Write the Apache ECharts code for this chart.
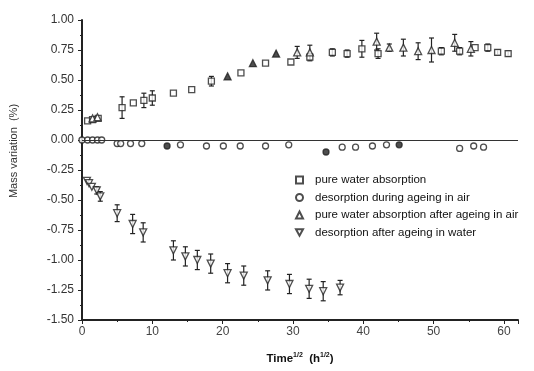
<!DOCTYPE html>
<html>
<head>
<meta charset="utf-8">
<script src="https://cdn.jsdelivr.net/npm/echarts@6/dist/echarts.min.js"></script>
<style>
  html, body { margin: 0; padding: 0; background: #fff; }
  #chart { width: 534px; height: 371px; }
</style>
</head>
<body>
<div id="chart"></div>
<script>
// [time^1/2, mass variation %, error]
const pureWater = [
  [0.8, 0.16, 0], [1.5, 0.17, 0], [2.3, 0.18, 0], [5.7, 0.27, 0.09], [7.3, 0.31, 0],
  [8.8, 0.33, 0.06], [10, 0.35, 0.06], [13, 0.39, 0], [15.6, 0.42, 0], [18.4, 0.49, 0.04],
  [22.6, 0.56, 0], [26.1, 0.64, 0], [29.7, 0.65, 0], [32.4, 0.69, 0.03], [35.6, 0.73, 0.03],
  [37.7, 0.72, 0.03], [39.8, 0.76, 0.07], [42.1, 0.72, 0.04], [51.1, 0.74, 0.03], [53.7, 0.74, 0.03],
  [55.9, 0.77, 0], [57.7, 0.77, 0.03], [59.1, 0.73, 0.02], [60.6, 0.72, 0.02]
];
const desorbAir = [
  [0, 0, 0], [0.8, 0, 0], [1.5, 0, 0], [2.2, 0, 0], [2.8, 0, 0], [5, -0.03, 0], [5.5, -0.03, 0],
  [6.9, -0.03, 0], [8.5, -0.03, 0], [12.1, -0.05, 0], [14, -0.04, 0], [17.7, -0.05, 0],
  [20.1, -0.05, 0], [22.5, -0.05, 0], [26.1, -0.05, 0], [29.4, -0.04, 0], [34.7, -0.1, 0],
  [37, -0.06, 0], [38.9, -0.06, 0], [41.3, -0.05, 0], [43.3, -0.04, 0], [45.1, -0.04, 0],
  [53.7, -0.07, 0], [55.7, -0.05, 0], [57.1, -0.06, 0]
];
const waterAfterAir = [
  [1.5, 0.18, 0], [2.2, 0.19, 0], [20.7, 0.53, 0], [24.3, 0.64, 0], [27.6, 0.72, 0],
  [30.6, 0.73, 0.05], [32.4, 0.73, 0.06], [41.9, 0.82, 0.07], [43.7, 0.77, 0.03],
  [45.7, 0.77, 0.07], [47.8, 0.74, 0.07], [49.7, 0.75, 0.1], [53, 0.81, 0.07], [55.3, 0.76, 0.06]
];
const desorbWater = [
  [0.7, -0.34, 0], [1.0, -0.36, 0], [1.4, -0.39, 0], [2.1, -0.42, 0.03], [2.6, -0.47, 0.04],
  [5, -0.61, 0.07], [7.2, -0.7, 0.08], [8.7, -0.77, 0.08], [13, -0.92, 0.08], [14.7, -0.97, 0.08],
  [16.4, -1.0, 0.08], [18.3, -1.03, 0.08], [20.7, -1.11, 0.08], [23, -1.13, 0.08],
  [26.4, -1.17, 0.08], [29.5, -1.2, 0.08], [32.3, -1.24, 0.08], [34.3, -1.26, 0.08], [36.7, -1.23, 0.06]
];
const seriesNames = [
  'pure water absorption',
  'desorption during ageing in air',
  'pure water absorption after ageing in air',
  'desorption after ageing in water'
];
const xTicks = [0, 10, 20, 30, 40, 50, 60];
const yTicks = [-1.5, -1.25, -1.0, -0.75, -0.5, -0.25, 0, 0.25, 0.5, 0.75, 1.0];

const ink = '#222';
const font = 'Liberation Sans, Arial, sans-serif';
const chart = echarts.init(document.getElementById('chart'));

// vertical error bars with small caps
function errorBars(data) {
  return {
    type: 'custom',
    silent: true,
    z: 1,
    data: data.filter(d => d[2] > 0),
    renderItem: function (params, api) {
      const x = api.value(0), y = api.value(1), e = api.value(2);
      const top = api.coord([x, y + e]);
      const bot = api.coord([x, y - e]);
      const w = 2.5;
      const style = { stroke: ink, lineWidth: 1.2 };
      return {
        type: 'group',
        children: [
          { type: 'line', shape: { x1: top[0], y1: top[1], x2: bot[0], y2: bot[1] }, style: style },
          { type: 'line', shape: { x1: top[0] - w, y1: top[1], x2: top[0] + w, y2: top[1] }, style: style },
          { type: 'line', shape: { x1: bot[0] - w, y1: bot[1], x2: bot[0] + w, y2: bot[1] }, style: style }
        ]
      };
    }
  };
}

function scatter(name, data, symbol, size, rotate, filledIdx) {
  return {
    name: name,
    type: 'scatter',
    symbol: symbol,
    symbolSize: size,
    symbolRotate: rotate,
    z: 3,
    itemStyle: { color: '#fff', borderColor: ink, borderWidth: 1.3 },
    data: data.map((d, i) => ({
      value: [d[0], d[1]],
      itemStyle: filledIdx && filledIdx.indexOf(i) >= 0 ? { color: ink } : undefined
    }))
  };
}

const option = {
  animation: false,
  backgroundColor: '#fff',
  textStyle: { fontFamily: font },
  grid: { left: 82, right: 16, top: 20, bottom: 51 },
  graphic: [{
    type: 'text',
    x: 14,
    y: 151,
    rotation: Math.PI / 2,
    style: {
      text: 'Mass variation  (%)',
      font: '11px ' + font,
      fill: '#333',
      align: 'center',
      verticalAlign: 'middle'
    }
  }],
  legend: {
    orient: 'vertical',
    left: 290,
    top: 169,
    itemGap: 5.5,
    itemWidth: 7,
    itemHeight: 7,
    textStyle: { fontSize: 11.5, color: '#111', fontFamily: font, padding: [0, 0, 0, 7] },
    data: [
      { name: seriesNames[0], icon: 'rect' },
      { name: seriesNames[1], icon: 'circle' },
      { name: seriesNames[2], icon: 'triangle' },
      { name: seriesNames[3], icon: 'path://M0,0L10,0L5,9Z' }
    ]
  },
  xAxis: {
    type: 'value',
    min: 0,
    max: 62,
    interval: 10,
    name: '{b|Time}{s|1/2}{b|  (h}{s|1/2}{b|)}',
    nameLocation: 'middle',
    nameGap: 32,
    nameTextStyle: {
      rich: {
        b: { fontSize: 11.5, fontWeight: 'bold', color: '#111' },
        s: { fontSize: 7, fontWeight: 'bold', color: '#111', verticalAlign: 'top', padding: [0, 0, 6, 0] }
      }
    },
    axisLine: { onZero: false, lineStyle: { color: ink, width: 2 } },
    axisTick: { length: 4, lineStyle: { color: ink } },
    minorTick: { show: true, splitNumber: 2, length: 2, lineStyle: { color: ink } },
    axisLabel: { fontSize: 12, color: '#444', margin: 6, customValues: xTicks },
    splitLine: { show: false }
  },
  yAxis: {
    type: 'value',
    min: -1.5,
    max: 1.0,
    interval: 0.25,
    axisLine: { onZero: false, lineStyle: { color: ink, width: 2 } },
    axisTick: { length: 4, lineStyle: { color: ink } },
    minorTick: { show: true, splitNumber: 2, length: 2, lineStyle: { color: ink } },
    axisLabel: {
      fontSize: 12, color: '#333', margin: 8,
      customValues: yTicks,
      formatter: v => v.toFixed(2)
    },
    splitLine: { show: false }
  },
  series: [
    errorBars(pureWater),
    errorBars(waterAfterAir),
    errorBars(desorbWater),
    Object.assign(scatter(seriesNames[0], pureWater, 'rect', 6, 0), {
      markLine: {
        silent: true,
        symbol: 'none',
        label: { show: false },
        lineStyle: { color: '#333', width: 1.2, type: 'solid' },
        data: [{ yAxis: 0 }]
      }
    }),
    scatter(seriesNames[1], desorbAir, 'circle', 6, 0, [9, 16, 21]),
    scatter(seriesNames[2], waterAfterAir, 'triangle', 7, 0, [2, 3, 4]),
    scatter(seriesNames[3], desorbWater, 'triangle', 7, 180)
  ]
};
chart.setOption(option);
</script>
</body>
</html>
